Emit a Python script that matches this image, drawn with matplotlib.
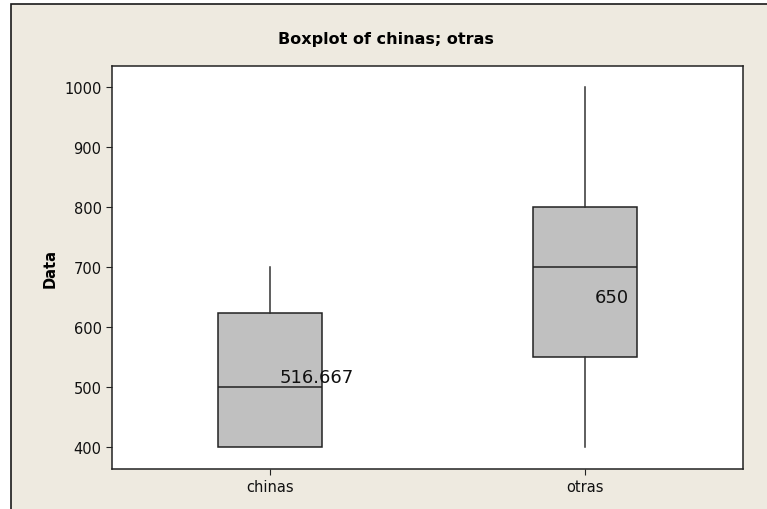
import matplotlib.pyplot as plt
from matplotlib.patches import Rectangle

# Summary statistics for each sample
groups = ["chinas", "otras"]
whisker_low = [400, 400]
q1 = [400, 550]
medians = [500, 700]
q3 = [623, 800]
whisker_high = [700, 1000]
means = [516.667, 650]
mean_labels = ["516.667", "650"]

plt.rcParams['font.family'] = ['DejaVu Sans']

fig = plt.figure(figsize=(7.67, 5.10), dpi=100, facecolor="white")

# beige panel with a dark frame on top/left (runs off the right and bottom edges)
W, H = 767, 510
fig.patches.append(Rectangle((11 / W, -0.1), 1.0, 1 - 5 / H + 0.1, transform=fig.transFigure,
                             facecolor="#EEEAE0", edgecolor="#1a1a1a", linewidth=1.2,
                             zorder=-10))

ax = fig.add_axes([112 / W, 1 - 470 / H, (743 - 112) / W, (470 - 67) / H])
ax.set_facecolor("white")

stats = []
for i, g in enumerate(groups):
    stats.append(dict(label=g, whislo=whisker_low[i], q1=q1[i], med=medians[i],
                      q3=q3[i], whishi=whisker_high[i], fliers=[]))

ax.bxp(stats, positions=[1, 2], widths=0.33, patch_artist=True, showcaps=False,
       boxprops=dict(facecolor="#C0C0C0", edgecolor="#222222", linewidth=1.1),
       medianprops=dict(color="#222222", linewidth=1.1),
       whiskerprops=dict(color="#333333", linewidth=1.1))

for i, m in enumerate(means):
    ax.text(i + 1 + 0.03, m, mean_labels[i], ha="left", va="center",
            fontsize=13, color="#111111")

ax.set_xlim(0.5, 2.5)
ax.set_ylim(363, 1035)
ax.set_yticks([400, 500, 600, 700, 800, 900, 1000])
ax.set_xticks([1, 2])
ax.set_xticklabels(groups)
ax.tick_params(axis="both", direction="out", length=4, labelsize=10.5,
               colors="#222222", labelcolor="#111111")
for s in ax.spines.values():
    s.set_color("#222222")
    s.set_linewidth(1.1)

ax.set_ylabel("Data", fontsize=10.5, fontweight="bold", labelpad=5)
fig.text(386 / W, 1 - 40 / H, "Boxplot of chinas; otras", ha="center", va="center",
         fontsize=11.5, fontweight="bold")

fig.savefig("out.png", dpi=100, facecolor=fig.get_facecolor())
